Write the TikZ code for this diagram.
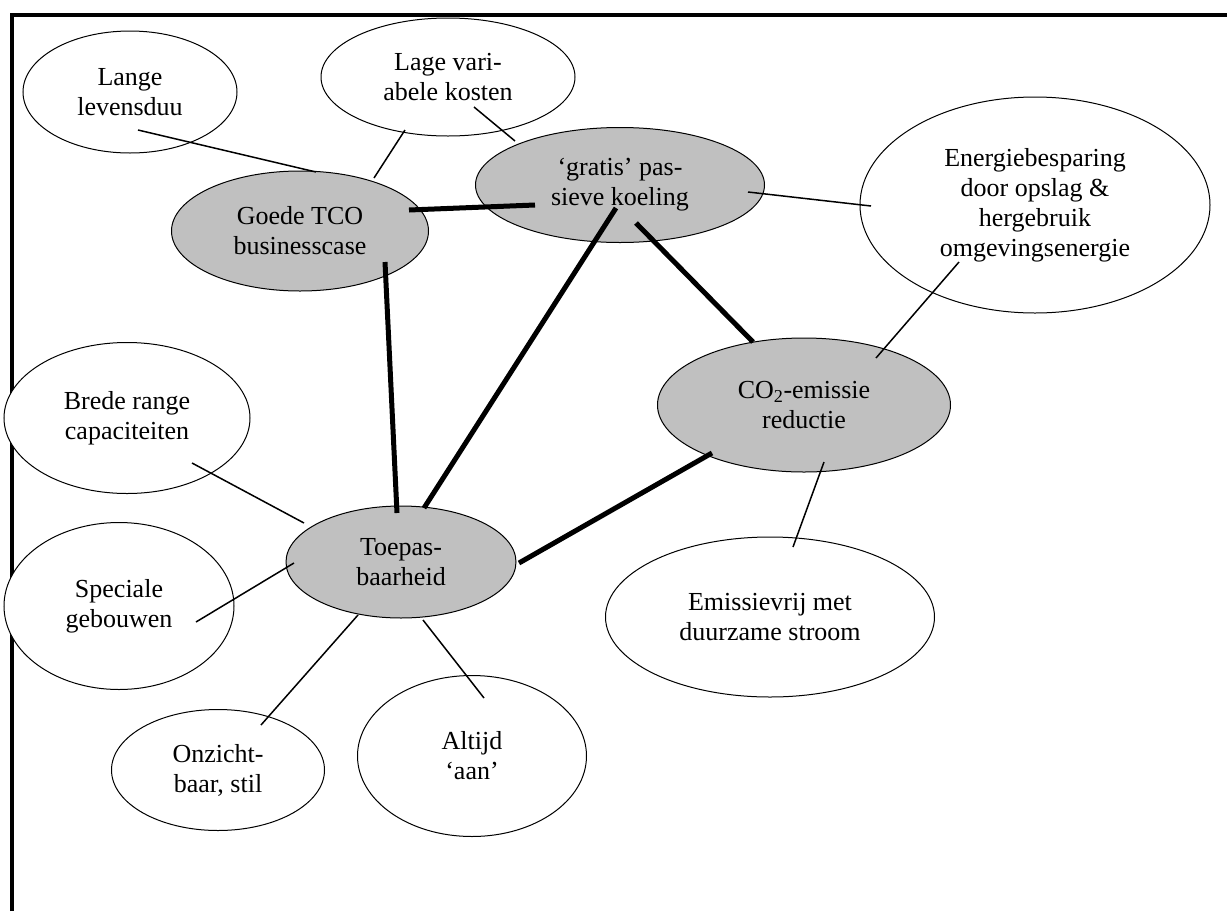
\documentclass[tikz,border=0pt]{standalone}
\usepackage{fontspec}
\setmainfont{Liberation Serif}
\usetikzlibrary{shapes.geometric}
\begin{document}
\begin{tikzpicture}[x=1pt,y=-1pt,
  bubble/.style={ellipse,draw=black,line width=1pt,fill=white,inner sep=0pt,
    align=center,font=\fontsize{26}{30}\selectfont},
  core/.style={bubble,fill=coregray},
  thin/.style={line width=1.5pt},
  heavy/.style={line width=5pt}]
\definecolor{coregray}{HTML}{C0C0C0}
\useasboundingbox (0,0) rectangle (1227,911);
% frame
\draw[line width=4pt] (12,911) -- (12,15) -- (1227,15);

% outer bubbles
\node[bubble,minimum width=214,minimum height=122] (lange) at (130,92) {Lange\\levensduu};
\node[bubble,minimum width=254,minimum height=118] (lage) at (448,77) {Lage vari-\\abele kosten};
\node[bubble,minimum width=350,minimum height=216] (energie) at (1035,205) {Energiebesparing\\door opslag \&\\hergebruik\\omgevingsenergie};
\node[bubble,minimum width=329,minimum height=160] (emis) at (770,617) {Emissievrij met\\duurzame stroom};
\node[bubble,minimum width=246,minimum height=151] (brede) at (127,418) {Brede range\\capaciteiten};
\node[bubble,minimum width=230,minimum height=167] (spec) at (119,606) {Speciale\\gebouwen};
\node[bubble,minimum width=213,minimum height=121] (onz) at (218,770) {Onzicht-\\baar, stil};
\node[bubble,minimum width=229,minimum height=161] (altijd) at (472,756) {Altijd\\‘aan’};

% core bubbles
\node[core,minimum width=257,minimum height=120] (goede) at (300,231) {Goede TCO\\businesscase};
\node[core,minimum width=289,minimum height=115] (gratis) at (620,185) {‘gratis’ pas-\\sieve koeling};
\node[core,minimum width=293,minimum height=134] (co2) at (804,405) {CO\textsubscript{2}-emissie\\reductie};
\node[core,minimum width=230,minimum height=112] (toepas) at (401,562) {Toepas-\\baarheid};

% thin links
\draw[thin] ([shift={(8,38)}]lange.center) -- ([shift={(16,-59)}]goede.center);
\draw[thin] ([shift={(-43,53)}]lage.center) -- ([shift={(74,-53)}]goede.center);
\draw[thin] ([shift={(26,30)}]lage.center) -- ([shift={(-105,-44)}]gratis.center);
\draw[thin] ([shift={(128,7)}]gratis.center) -- ([shift={(-164,1)}]energie.center);
\draw[thin] ([shift={(-76,57)}]energie.center) -- ([shift={(72,-47)}]co2.center);
\draw[thin] ([shift={(20,57)}]co2.center) -- ([shift={(23,-70)}]emis.center);
\draw[thin] ([shift={(65,45)}]brede.center) -- ([shift={(-97,-39)}]toepas.center);
\draw[thin] ([shift={(77,16)}]spec.center) -- ([shift={(-107,1)}]toepas.center);
\draw[thin] ([shift={(-43,53)}]toepas.center) -- ([shift={(43,-45)}]onz.center);
\draw[thin] ([shift={(22,58)}]toepas.center) -- ([shift={(12,-58)}]altijd.center);

% heavy links
\draw[heavy] ([shift={(109,-21)}]goede.center) -- ([shift={(-85,20)}]gratis.center);
\draw[heavy] ([shift={(85,31)}]goede.center) -- ([shift={(-4,-49)}]toepas.center);
\draw[heavy] ([shift={(-4,23)}]gratis.center) -- ([shift={(23,-54)}]toepas.center);
\draw[heavy] ([shift={(16,38)}]gratis.center) -- ([shift={(-51,-63)}]co2.center);
\draw[heavy] ([shift={(-92,48)}]co2.center) -- ([shift={(118,1)}]toepas.center);
\end{tikzpicture}
\end{document}
